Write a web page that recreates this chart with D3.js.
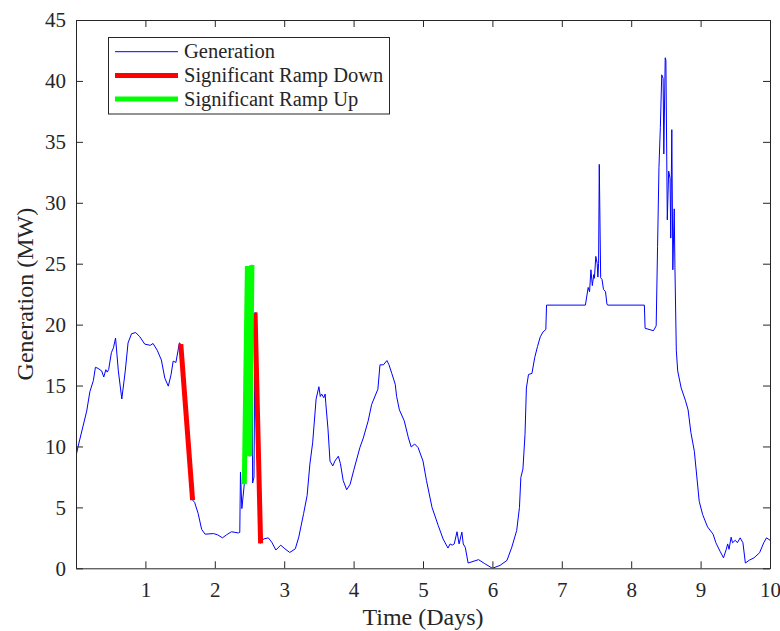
<!DOCTYPE html>
<html lang="en">
	<head>
		<meta charset="UTF-8" />
		<script src="https://d3js.org/d3.v7.min.js"></script>
		<title>Generation ramps</title>
		<style>
			body { margin: 0; background: #fff; }
			text { font-family: "Liberation Serif", serif; fill: #262626; }
		</style>
	</head>
	<body>
		<svg width="780" height="631"></svg>
		<script>
			// generation trace (days, MW)
			const genDays = [
				0.00, 0.03, 0.154, 0.20, 0.25, 0.28, 0.32, 0.37, 0.40, 0.43, 0.45, 0.47, 0.51, 0.54, 0.57,
				0.61, 0.66, 0.71, 0.75, 0.80, 0.86, 0.92, 0.99, 1.07, 1.11, 1.17, 1.23, 1.28, 1.33, 1.37,
				1.40, 1.44, 1.49, 1.51, 1.68, 1.71, 1.76, 1.81, 1.86, 1.98, 2.04, 2.11, 2.17, 2.24, 2.34,
				2.36, 2.37, 2.39, 2.425, 2.47, 2.505, 2.535, 2.545, 2.565, 2.58, 2.66, 2.70, 2.77, 2.82, 2.88,
				2.95, 3.01, 3.08, 3.16, 3.21, 3.28, 3.33, 3.37, 3.41, 3.46, 3.50, 3.52, 3.54, 3.57, 3.59,
				3.60, 3.63, 3.66, 3.70, 3.73, 3.78, 3.81, 3.85, 3.90, 3.95, 4.00, 4.09, 4.14, 4.21, 4.26,
				4.35, 4.38, 4.43, 4.48, 4.51, 4.55, 4.60, 4.62, 4.66, 4.73, 4.79, 4.83, 4.88, 4.93, 5.00,
				5.05, 5.13, 5.22, 5.29, 5.36, 5.39, 5.42, 5.45, 5.49, 5.52, 5.56, 5.58, 5.61, 5.65, 5.80,
				5.89, 6.00, 6.11, 6.21, 6.28, 6.35, 6.39, 6.41, 6.44, 6.47, 6.49, 6.52, 6.57, 6.61, 6.65,
				6.69, 6.73, 6.77, 6.78, 7.34, 7.38, 7.40, 7.42, 7.44, 7.46, 7.47, 7.49, 7.51, 7.52, 7.53,
				7.54, 7.56, 7.58, 7.60, 7.63, 7.65, 7.66, 8.19, 8.20, 8.32, 8.36, 8.38, 8.40, 8.42, 8.44,
				8.46, 8.47, 8.49, 8.50, 8.52, 8.54, 8.56, 8.57, 8.585, 8.60, 8.62, 8.63, 8.65, 8.67, 8.72,
				8.78, 8.82, 8.86, 8.91, 8.98, 9.03, 9.10, 9.18, 9.22, 9.28, 9.33, 9.37, 9.39, 9.41, 9.44,
				9.46, 9.50, 9.53, 9.57, 9.61, 9.645, 9.70, 9.77, 9.85, 9.91, 9.95, 10.0
			];
			const genMW = [
				9.2, 10.0, 12.9, 14.5, 15.4, 16.5, 16.4, 16.2, 15.7, 16.3, 16.1, 16.3, 17.7, 18.1, 18.9,
				16.2, 13.9, 16.2, 18.5, 19.25, 19.35, 19.0, 18.4, 18.3, 18.45, 17.9, 17.1, 15.6, 14.95, 15.9,
				17.0, 16.9, 18.5, 18.4, 5.6, 5.4, 4.5, 3.2, 2.8, 2.85, 2.75, 2.5, 2.75, 3.0, 2.9,
				2.95, 7.9, 4.9, 6.9, 24.8, 9.2, 24.9, 7.0, 7.5, 21.0, 2.05, 2.4, 2.5, 2.15, 1.5,
				1.9, 1.6, 1.3, 1.6, 2.56, 4.5, 5.96, 8.55, 10.3, 13.9, 14.9, 14.1, 14.3, 14.0, 14.3,
				13.5, 11.5, 8.8, 8.4, 8.8, 9.2, 8.6, 7.2, 6.45, 6.9, 8.0, 9.9, 10.7, 12.1, 13.45,
				14.7, 16.7, 16.7, 17.05, 16.7, 16.0, 15.1, 14.1, 13.0, 12.1, 10.7, 9.96, 10.2, 9.9, 8.8,
				7.2, 5.0, 3.5, 2.4, 1.66, 2.0, 1.9, 2.0, 3.0, 2.0, 2.97, 2.0, 1.7, 0.43, 0.71,
				0.38, 0.0, 0.24, 0.65, 1.74, 3.1, 5.0, 7.46, 8.14, 11.0, 14.8, 15.9, 16.0, 17.3, 18.2,
				19.0, 19.4, 19.6, 21.6, 21.6, 23.05, 22.7, 24.5, 23.2, 24.1, 23.8, 25.6, 25.0, 23.9, 25.0,
				33.15, 23.85, 23.7, 22.9, 22.7, 21.7, 21.6, 21.6, 19.7, 19.5, 19.9, 26.4, 32.9, 36.2, 40.5,
				40.2, 34.0, 41.9, 41.7, 28.6, 32.6, 32.0, 27.1, 36.0, 24.5, 29.5, 24.7, 17.9, 16.2, 14.8,
				13.8, 13.0, 11.15, 9.6, 5.5, 4.4, 3.4, 2.8, 2.1, 1.4, 0.86, 1.56, 2.0, 1.56, 2.55,
				2.1, 2.3, 2.1, 2.5, 2.1, 0.43, 0.66, 0.86, 1.28, 2.1, 2.5, 2.3
			];

			// significant ramps, one sub-array per event
			const rampDownDays = [[1.51, 1.68], [2.58, 2.66]];
			const rampDownMW = [[18.4, 5.6], [21.0, 2.05]];
			const rampUpDays = [[2.425, 2.47, 2.505, 2.535]];
			const rampUpMW = [[6.9, 24.8, 9.2, 24.9]];

			const xTicks = [1, 2, 3, 4, 5, 6, 7, 8, 9, 10];
			const yTicks = [0, 5, 10, 15, 20, 25, 30, 35, 40, 45];

			const legendNames = ["Generation", "Significant Ramp Down", "Significant Ramp Up"];
			const legendColors = ["#0000ff", "#ff0000", "#00ff00"];
			const legendWidths = [1, 5, 5];

			const pL = 76, pR = 770, pT = 20, pB = 568.3;
			const svg = d3.select("svg");

			const x = d3.scaleLinear().domain([0, 10]).range([pL, pR]);
			const y = d3.scaleLinear().domain([0, 45]).range([pB, pT]);

			svg.append("clipPath").attr("id", "clip")
				.append("rect")
				.attr("x", pL).attr("y", pT)
				.attr("width", pR - pL).attr("height", pB - pT);

			const line = d3.line().x(d => x(d[0])).y(d => y(d[1]));
			const plot = svg.append("g").attr("clip-path", "url(#clip)");

			plot.append("path")
				.datum(d3.zip(genDays, genMW))
				.attr("fill", "none")
				.attr("stroke", legendColors[0])
				.attr("stroke-width", 1)
				.attr("stroke-linejoin", "round")
				.attr("d", line);

			rampDownDays.forEach((ds, i) => {
				plot.append("path")
					.datum(d3.zip(ds, rampDownMW[i]))
					.attr("fill", "none")
					.attr("stroke", legendColors[1])
					.attr("stroke-width", 5)
					.attr("d", line);
			});
			rampUpDays.forEach((ds, i) => {
				plot.append("path")
					.datum(d3.zip(ds, rampUpMW[i]))
					.attr("fill", "none")
					.attr("stroke", legendColors[2])
					.attr("stroke-width", 5)
					.attr("stroke-linejoin", "miter")
					.attr("d", line);
			});

			// box axes, ticks pointing inward
			function styleAxis(g) {
				g.selectAll("path, line").attr("stroke", "#262626");
				g.selectAll("text").attr("font-family", "Liberation Serif").attr("font-size", 21).attr("fill", "#262626");
			}
			svg.append("g").attr("transform", `translate(0,${pB})`)
				.call(d3.axisBottom(x).tickValues(xTicks).tickSizeInner(-7).tickSizeOuter(0).tickPadding(14))
				.call(styleAxis);
			svg.append("g").attr("transform", `translate(0,${pT})`)
				.call(d3.axisTop(x).tickValues(xTicks).tickSizeInner(-7).tickSizeOuter(0).tickFormat(""))
				.call(styleAxis);
			svg.append("g").attr("transform", `translate(${pL},0)`)
				.call(d3.axisLeft(y).tickValues(yTicks).tickSizeInner(-7).tickSizeOuter(0).tickPadding(10))
				.call(styleAxis);
			svg.append("g").attr("transform", `translate(${pR},0)`)
				.call(d3.axisRight(y).tickValues(yTicks).tickSizeInner(-7).tickSizeOuter(0).tickFormat(""))
				.call(styleAxis);

			svg.append("text")
				.attr("x", (pL + pR) / 2).attr("y", 625)
				.attr("text-anchor", "middle").attr("font-size", 24)
				.text("Time (Days)");
			svg.append("text")
				.attr("transform", `translate(33,${(pT + pB) / 2}) rotate(-90)`)
				.attr("text-anchor", "middle").attr("font-size", 24)
				.text("Generation (MW)");

			// legend
			const lg = svg.append("g");
			lg.append("rect")
				.attr("x", 108.5).attr("y", 37.5).attr("width", 281).attr("height", 76.5)
				.attr("fill", "#fff").attr("stroke", "#262626").attr("stroke-width", 1);
			legendNames.forEach((name, i) => {
				const ly = 51.7 + i * 23.7;
				lg.append("line")
					.attr("x1", 115).attr("x2", 178).attr("y1", ly).attr("y2", ly)
					.attr("stroke", legendColors[i]).attr("stroke-width", legendWidths[i]);
				lg.append("text")
					.attr("x", 184).attr("y", ly + 6.5)
					.attr("font-size", 20.5)
					.text(name);
			});
		</script>
	</body>
</html>
